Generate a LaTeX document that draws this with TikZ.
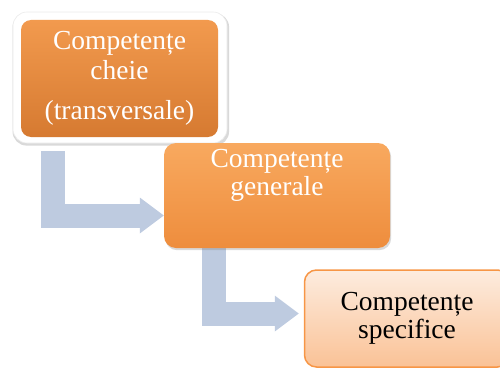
\documentclass[tikz,border=0pt]{standalone}
\usepackage{fontspec}
\setmainfont{Liberation Serif}
\usetikzlibrary{arrows.meta,shadows,backgrounds}

\definecolor{arrowblue}{HTML}{BECBE0}
\definecolor{keytop}{HTML}{F29A4E}
\definecolor{keymid}{HTML}{EE9143}
\definecolor{keybottom}{HTML}{D67A31}
\definecolor{gentop}{HTML}{F8A95F}
\definecolor{genbottom}{HTML}{EE8D3D}
\definecolor{spectop}{HTML}{FDECDF}
\definecolor{specbottom}{HTML}{FAC296}
\definecolor{specline}{HTML}{F79646}

\tikzset{
  flow/.style={draw=arrowblue, line width=24pt,
    -{Triangle[length=24pt,width=36pt,line width=0pt]}},
  frame/.style={rounded corners=14pt, fill=white, draw=black!8, line width=.6pt,
    minimum width=214pt, minimum height=131pt,
    drop shadow={shadow xshift=.8pt, shadow yshift=-1.8pt, shadow scale=1.012, opacity=.3}},
  keybox/.style={rounded corners=10pt, top color=keytop, middle color=keymid, bottom color=keybottom,
    minimum width=197pt, minimum height=117pt, text=white, align=center,
    font=\fontsize{27.5}{30}\selectfont},
  genbox/.style={rounded corners=12pt, top color=gentop, bottom color=genbottom,
    minimum width=226pt, minimum height=105pt,
    drop shadow={shadow xshift=1.2pt, shadow yshift=-2.2pt, opacity=.3}},
  gentext/.style={text=white, align=center, font=\fontsize{27.5}{28}\selectfont},
  specbox/.style={rounded corners=12pt, top color=spectop, bottom color=specbottom,
    draw=specline, line width=1.5pt, minimum width=205pt, minimum height=97pt,
    align=center, font=\fontsize{27.5}{27.5}\selectfont}
}

\begin{document}
\begin{tikzpicture}[x=1pt,y=-1pt]
    \useasboundingbox (0,0) rectangle (500,369);
    \clip (0,0) rectangle (500,369);

    %first box:
    \node[frame] (rahmen) at (120,77.5) {};
    \node[keybox] (cheie) at (119.5,78.5) {Competențe\\cheie\\[10pt](transversale)};

    %second box:
    \node[genbox] (generale) at (277,195.5) {};
    \node[gentext] (generale-text) at ([yshift=20pt]generale.center) {Competențe\\generale};

    %third box:
    \node[specbox] (specifice) at (407,318.5) {Competențe\\specifice};

    %arrows:
    \begin{scope}[on background layer]
        \draw[flow] ([xshift=40pt,yshift=-8pt]rahmen.south west) |- ([yshift=-20pt]generale.west);
        \draw[flow] ([xshift=50.5pt]generale.south west) |- ([xshift=-5pt,yshift=5pt]specifice.west);
    \end{scope}

\end{tikzpicture}
\end{document}
